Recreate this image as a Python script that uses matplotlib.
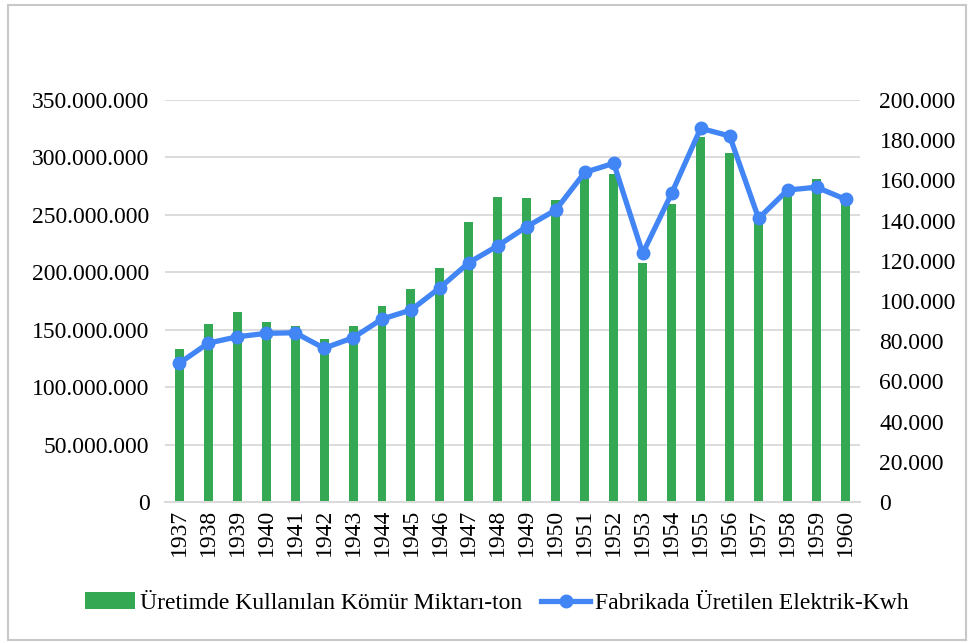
import matplotlib.pyplot as plt
from matplotlib.patches import Rectangle
from matplotlib.ticker import FuncFormatter

plt.rcParams['font.family'] = ['Liberation Serif', 'DejaVu Serif']

# Yillar
yillar = [str(y) for y in range(1937, 1961)]

# Uretimde kullanilan komur miktari (ton)
komur = [133.5e6, 154.8e6, 165.2e6, 157.0e6, 153.6e6, 142.2e6, 153.6e6, 170.5e6,
         185.3e6, 204.1e6, 244.2e6, 265.4e6, 264.5e6, 263.3e6, 284.0e6, 285.7e6,
         208.4e6, 259.8e6, 318.0e6, 303.7e6, 246.0e6, 268.0e6, 281.0e6, 263.0e6]

# Fabrikada uretilen elektrik (Kwh)
elektrik = [69.0e3, 79.0e3, 82.2e3, 83.9e3, 84.2e3, 76.5e3, 81.7e3, 91.0e3,
            95.5e3, 106.6e3, 119.1e3, 127.5e3, 137.0e3, 145.3e3, 164.0e3, 168.5e3,
            123.7e3, 153.6e3, 185.9e3, 182.1e3, 141.1e3, 155.2e3, 156.6e3, 150.6e3]

yesil = '#34A853'
mavi = '#4285F4'


def nokta_fmt(v, pos):
    return f'{int(round(v)):,}'.replace(',', '.')


fig = plt.figure(figsize=(9.69, 6.43), dpi=100)
ax = fig.add_axes([0.170, 0.2193, 0.7175, 0.6252])
ax2 = ax.twinx()

x = list(range(len(yillar)))
ax.bar(x, komur, width=0.31, color=yesil, zorder=2,
       label='Üretimde Kullanılan Kömür Miktarı-ton')
ax2.plot(x, elektrik, color=mavi, lw=3.8, marker='o', markersize=9,
         zorder=3, label='Fabrikada Üretilen Elektrik-Kwh')

ax.set_xlim(-0.5, len(yillar) - 0.5)
ax.set_ylim(0, 350e6)
ax.set_yticks([i * 50e6 for i in range(8)])
ax2.set_ylim(0, 200e3)
ax2.set_yticks([i * 20e3 for i in range(11)])
ax.yaxis.set_major_formatter(FuncFormatter(nokta_fmt))
ax2.yaxis.set_major_formatter(FuncFormatter(nokta_fmt))

ax.set_xticks(x)
ax.set_xticklabels(yillar, rotation=90, fontsize=17)
ax.tick_params(axis='y', length=0, labelsize=17, pad=11)
ax2.tick_params(axis='y', length=0, labelsize=17, pad=14)
ax.tick_params(axis='x', length=0, pad=5)

ax.grid(axis='y', color='#D9D9D9', lw=1.3, zorder=0)
ax.set_axisbelow(True)
for a in (ax, ax2):
    for s in ['top', 'left', 'right']:
        a.spines[s].set_visible(False)
    a.spines['bottom'].set_color('#D9D9D9')
    a.spines['bottom'].set_linewidth(1.3)

h1, l1 = ax.get_legend_handles_labels()
h2, l2 = ax2.get_legend_handles_labels()
fig.legend(h1 + h2, l1 + l2, loc='center', bbox_to_anchor=(0.513, 0.062),
           ncol=2, frameon=False, fontsize=17, handlelength=2.1,
           handletextpad=0.2, columnspacing=0.8)

# Dis cerceve
fig.patches.append(Rectangle((0.008, 0.005), 0.989, 0.988, transform=fig.transFigure,
                             fill=False, edgecolor='#C8C8C8', lw=1.5))

plt.savefig('out.png', dpi=100)
plt.close()
